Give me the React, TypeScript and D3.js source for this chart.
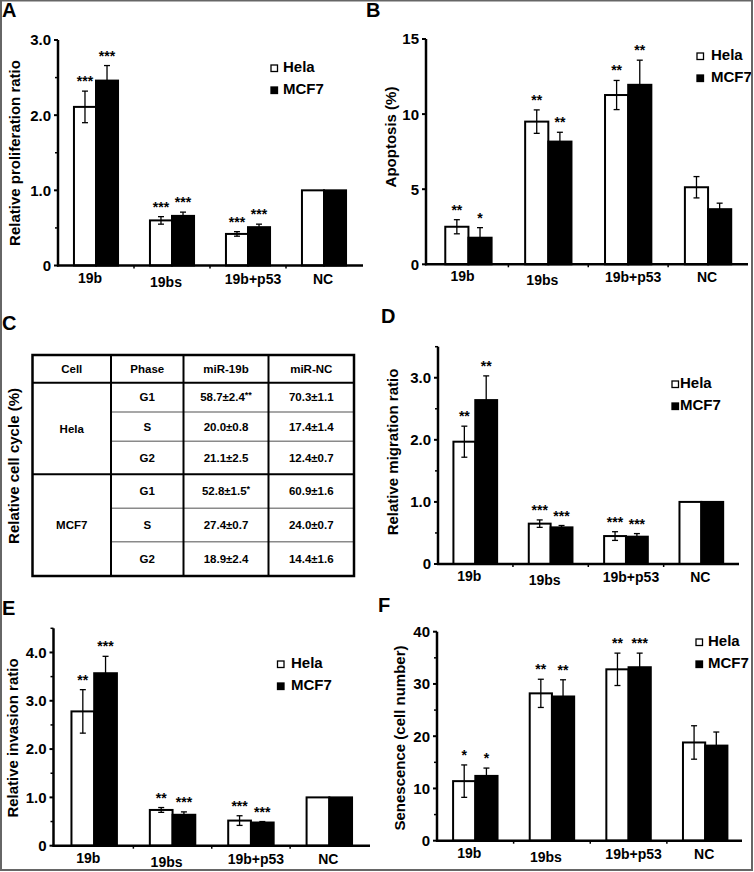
import React from "react";
import * as d3 from "d3";

const FONT = "'Liberation Sans', Arial, Helvetica, sans-serif";

const groups = ["19b", "19bs", "19b+p53", "NC"];
const seriesNames = ["Hela", "MCF7"];

// A: relative proliferation ratio
const prolifHela = [2.11, 0.6, 0.42, 1.0];
const prolifHelaErr = [0.21, 0.05, 0.03, 0];
const prolifMcf7 = [2.46, 0.66, 0.51, 1.0];
const prolifMcf7Err = [0.2, 0.05, 0.04, 0];
const prolifHelaSig = ["***", "***", "***", ""];
const prolifMcf7Sig = ["***", "***", "***", ""];

// B: apoptosis (%)
const apoHela = [2.5, 9.5, 11.27, 5.13];
const apoHelaErr = [0.47, 0.78, 0.97, 0.71];
const apoMcf7 = [1.77, 8.17, 11.95, 3.67];
const apoMcf7Err = [0.67, 0.62, 1.64, 0.4];
const apoHelaSig = ["**", "**", "**", ""];
const apoMcf7Sig = ["*", "**", "**", ""];

// D: relative migration ratio
const migHela = [1.97, 0.65, 0.45, 1.0];
const migHelaErr = [0.25, 0.06, 0.07, 0];
const migMcf7 = [2.64, 0.59, 0.44, 1.0];
const migMcf7Err = [0.39, 0.03, 0.05, 0];
const migHelaSig = ["**", "***", "***", ""];
const migMcf7Sig = ["**", "***", "***", ""];

// E: relative invasion ratio
const invHela = [2.78, 0.74, 0.52, 1.0];
const invHelaErr = [0.45, 0.05, 0.1, 0];
const invMcf7 = [3.57, 0.64, 0.48, 1.0];
const invMcf7Err = [0.35, 0.06, 0.02, 0];
const invHelaSig = ["**", "**", "***", ""];
const invMcf7Sig = ["***", "***", "***", ""];

// F: senescence (cell number)
const senHela = [11.4, 28.2, 32.8, 18.8];
const senHelaErr = [3.1, 2.7, 3.1, 3.2];
const senMcf7 = [12.4, 27.6, 33.2, 18.2];
const senMcf7Err = [1.5, 3.2, 2.7, 2.6];
const senHelaSig = ["*", "**", "**", ""];
const senMcf7Sig = ["*", "**", "***", ""];

// C: cell-cycle table
const tableHeader = ["Cell", "Phase", "miR-19b", "miR-NC"];
const tableCells = ["Hela", "MCF7"];
const tablePhases = ["G1", "S", "G2"];
const tableMir19b = ["58.7±2.4", "20.0±0.8", "21.1±2.5", "52.8±1.5", "27.4±0.7", "18.9±2.4"];
const tableMir19bSig = ["**", "", "", "*", "", ""];
const tableMirNC = ["70.3±1.1", "17.4±1.4", "12.4±0.7", "60.9±1.6", "24.0±0.7", "14.4±1.6"];

// layout (label x offsets / y offsets relative to band center / axis)
const labelDx = [-6, -6, 5, -1];
const labelDy = [17, 21, 18, 18];

type Panel = {
  letter: string;
  letterX: number;
  letterY: number;
  axisX: number;
  band: [number, number];
  xEnd: number;
  y0: number;
  yTop: number;
  max: number;
  major: number[];
  minor: number[];
  fmt: (v: number) => string;
  ylabel: string;
  ylx: number;
  yly: number;
  legX: number;
  legTextX: number;
  legY: number;
  vals: number[][];
  errs: number[][];
  sigs: string[][];
};

const fmt1 = (v: number) => (v === 0 ? "0" : d3.format(".1f")(v));
const fmt0 = (v: number) => d3.format("d")(v);

const panels: Panel[] = [
  {
    letter: "A", letterX: 2, letterY: 17,
    axisX: 58, band: [58, 362], xEnd: 363, y0: 265.5, yTop: 40, max: 3,
    major: [0, 1, 2, 3], minor: [0.5, 1.5, 2.5], fmt: fmt1,
    ylabel: "Relative proliferation ratio", ylx: 14, yly: 153,
    legX: 271, legTextX: 283, legY: 72,
    vals: [prolifHela, prolifMcf7], errs: [prolifHelaErr, prolifMcf7Err], sigs: [prolifHelaSig, prolifMcf7Sig],
  },
  {
    letter: "B", letterX: 366, letterY: 17,
    axisX: 426, band: [428.5, 748], xEnd: 748, y0: 264.3, yTop: 39, max: 15,
    major: [0, 5, 10, 15], minor: [], fmt: fmt0,
    ylabel: "Apoptosis (%)", ylx: 390, yly: 137,
    legX: 697, legTextX: 711, legY: 60,
    vals: [apoHela, apoMcf7], errs: [apoHelaErr, apoMcf7Err], sigs: [apoHelaSig, apoMcf7Sig],
  },
  {
    letter: "D", letterX: 381, letterY: 323,
    axisX: 438, band: [437.6, 739], xEnd: 739, y0: 564, yTop: 346.7, max: 3.5,
    major: [0, 1, 2, 3], minor: [0.5, 1.5, 2.5, 3.5], fmt: fmt1,
    ylabel: "Relative migration ratio", ylx: 392, yly: 452,
    legX: 672, legTextX: 680, legY: 388,
    vals: [migHela, migMcf7], errs: [migHelaErr, migMcf7Err], sigs: [migHelaSig, migMcf7Sig],
  },
  {
    letter: "E", letterX: 2, letterY: 615,
    axisX: 53.5, band: [55, 368.5], xEnd: 370, y0: 845.7, yTop: 628.3, max: 4.5,
    major: [0, 1, 2, 3, 4], minor: [0.5, 1.5, 2.5, 3.5, 4.5], fmt: fmt1,
    ylabel: "Relative invasion ratio", ylx: 12.5, yly: 738,
    legX: 277.5, legTextX: 291, legY: 668,
    vals: [invHela, invMcf7], errs: [invHelaErr, invMcf7Err], sigs: [invHelaSig, invMcf7Sig],
  },
  {
    letter: "F", letterX: 378, letterY: 612,
    axisX: 437, band: [437, 743.5], xEnd: 742, y0: 840.7, yTop: 631.7, max: 40,
    major: [0, 10, 20, 30, 40], minor: [5, 15, 25, 35], fmt: fmt0,
    ylabel: "Senescence (cell number)", ylx: 399, yly: 738,
    legX: 696, legTextX: 708, legY: 646,
    vals: [senHela, senMcf7], errs: [senHelaErr, senMcf7Err], sigs: [senHelaSig, senMcf7Sig],
  },
];

function BarPanel({ p }: { p: Panel }) {
  const x = d3.scaleBand<string>().domain(groups).range(p.band);
  const y = d3.scaleLinear().domain([0, p.max]).range([p.y0, p.yTop]);
  const step = x.step();
  const bw = step * 0.29;
  const capW = 6;
  const bars: React.ReactNode[] = [];
  const overlays: React.ReactNode[] = [];
  seriesNames.forEach((sn, s) => {
    groups.forEach((g, i) => {
      const v = p.vals[s][i];
      const e = p.errs[s][i];
      const sig = p.sigs[s][i];
      const left = (x(g) as number) + step / 2 - bw + s * bw;
      const cx = left + bw / 2;
      bars.push(
        <rect key={`b${s}${i}`} x={left} y={y(v)} width={bw} height={p.y0 - y(v)}
          fill={s === 0 ? "#fff" : "#000"} stroke="#000" strokeWidth={2} />
      );
      if (e > 0) {
        const yt = y(v + e), yb = y(v - e);
        overlays.push(
          <g key={`e${s}${i}`} stroke="#000" strokeWidth={1.3}>
            <line x1={cx} x2={cx} y1={yt} y2={yb} />
            <line x1={cx - capW / 2} x2={cx + capW / 2} y1={yt} y2={yt} />
            <line x1={cx - capW / 2} x2={cx + capW / 2} y1={yb} y2={yb} />
          </g>
        );
      }
      if (sig) {
        overlays.push(
          <text key={`s${s}${i}`} x={cx} y={y(v + e) - 5} textAnchor="middle"
            fontSize={14} fontWeight="bold">{sig}</text>
        );
      }
    });
  });
  const inner = groups.slice(1).map((g) => x(g) as number);
  return (
    <g fontFamily={FONT}>
      <text x={p.letterX} y={p.letterY} fontSize={20} fontWeight="bold">{p.letter}</text>
      {bars}
      {overlays}
      {/* y axis */}
      <line x1={p.axisX} x2={p.axisX} y1={y(p.max)} y2={p.y0 + 1} stroke="#000" strokeWidth={2.5} />
      {p.major.map((t) => (
        <g key={`mt${t}`}>
          <line x1={p.axisX - 4} x2={p.axisX} y1={y(t)} y2={y(t)} stroke="#000" strokeWidth={2} />
          <text x={p.axisX - 7} y={y(t)} dy="0.36em" textAnchor="end" fontSize={15} fontWeight="bold">{p.fmt(t)}</text>
        </g>
      ))}
      {p.minor.map((t) => (
        <line key={`nt${t}`} x1={p.axisX - 3} x2={p.axisX} y1={y(t)} y2={y(t)} stroke="#000" strokeWidth={1.5} />
      ))}
      {/* x axis */}
      <line x1={p.axisX - 1} x2={p.xEnd} y1={p.y0} y2={p.y0} stroke="#000" strokeWidth={2.5} />
      {inner.map((bx, k) => (
        <line key={`xt${k}`} x1={bx} x2={bx} y1={p.y0} y2={p.y0 + 3} stroke="#000" strokeWidth={1.5} />
      ))}
      {groups.map((g, i) => (
        <text key={`xl${i}`} x={(x(g) as number) + step / 2 + labelDx[i]} y={p.y0 + labelDy[i]}
          textAnchor="middle" fontSize={14} fontWeight="bold">{g}</text>
      ))}
      <text transform={`translate(${p.ylx},${p.yly}) rotate(-90)`} textAnchor="middle"
        dominantBaseline="central" fontSize={15} fontWeight="bold">{p.ylabel}</text>
      {/* legend */}
      {seriesNames.map((sn, s) => (
        <g key={`lg${s}`}>
          <rect x={p.legX} y={p.legY + s * 22 - 7} width={6.5} height={6.5}
            fill={s === 0 ? "#fff" : "#000"} stroke="#000" strokeWidth={1.3} />
          <text x={p.legTextX} y={p.legY + s * 22} fontSize={15} fontWeight="bold">{sn}</text>
        </g>
      ))}
    </g>
  );
}

function CellTable() {
  const cols = [32.5, 111, 183.5, 268.5, 354];
  const rows = [355, 382.7, 412, 441.3, 474.3, 508.3, 541.7, 576];
  const cx = (c: number) => (cols[c] + cols[c + 1]) / 2;
  const cy = (r: number) => (rows[r] + rows[r + 1]) / 2;
  const fs = 11.5;
  return (
    <g fontFamily={FONT} fontSize={fs} fontWeight="bold">
      <text x={2} y={330} fontSize={20}>C</text>
      <text transform={`translate(13,466) rotate(-90)`} textAnchor="middle" dominantBaseline="central"
        fontSize={15}>Relative cell cycle (%)</text>
      {tableHeader.map((h, c) => (
        <text key={`h${c}`} x={cx(c)} y={cy(0)} dy="0.36em" textAnchor="middle">{h}</text>
      ))}
      {tableCells.map((cell, k) => (
        <text key={`c${k}`} x={cx(0)} y={(rows[1 + k * 3] + rows[4 + k * 3]) / 2} dy="0.36em" textAnchor="middle">{cell}</text>
      ))}
      {tableMir19b.map((v, r) => (
        <g key={`r${r}`}>
          <text x={cx(1)} y={cy(r + 1)} dy="0.36em" textAnchor="middle">{tablePhases[r % 3]}</text>
          <text x={cx(2)} y={cy(r + 1)} dy="0.36em" textAnchor="middle">
            {v}
            {tableMir19bSig[r] ? <tspan fontSize={9} dy="-3">{tableMir19bSig[r]}</tspan> : null}
          </text>
          <text x={cx(3)} y={cy(r + 1)} dy="0.36em" textAnchor="middle">{tableMirNC[r]}</text>
        </g>
      ))}
      {/* inner grey lines */}
      {[2, 3, 5, 6].map((r) => (
        <line key={`g${r}`} x1={cols[1]} x2={cols[4]} y1={rows[r]} y2={rows[r]} stroke="#8a8a8a" strokeWidth={1.5} />
      ))}
      {[1, 4].map((r) => (
        <line key={`k${r}`} x1={cols[0]} x2={cols[4]} y1={rows[r]} y2={rows[r]} stroke="#000" strokeWidth={2} />
      ))}
      {[1, 2, 3].map((c) => (
        <line key={`v${c}`} x1={cols[c]} x2={cols[c]} y1={rows[0]} y2={rows[7]} stroke="#000" strokeWidth={2} />
      ))}
      <rect x={cols[0]} y={rows[0]} width={cols[4] - cols[0]} height={rows[7] - rows[0]}
        fill="none" stroke="#000" strokeWidth={2.5} />
    </g>
  );
}

export default function App() {
  return (
    <svg width={754} height={872} style={{ position: "absolute", left: 0, top: 0, background: "#fff" }}>
      <rect x={0} y={0} width={754} height={872} fill="#fff" />
      {panels.map((p) => (
        <BarPanel key={p.letter} p={p} />
      ))}
      <CellTable />
      <rect x={1} y={0.5} width={751} height={869.5} fill="none" stroke="#666" strokeWidth={2} />
    </svg>
  );
}
